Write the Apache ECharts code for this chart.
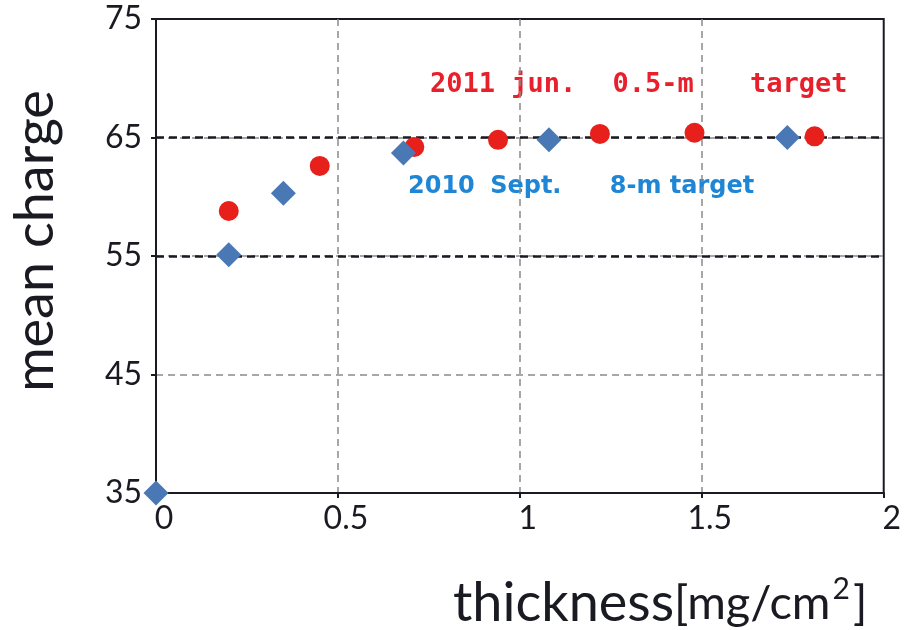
<!DOCTYPE html>
<html>
<head>
<meta charset="utf-8">
<script src="https://cdn.jsdelivr.net/npm/echarts@6/dist/echarts.min.js"></script>
<style>
  html, body { margin: 0; padding: 0; background: #fff; }
  #chart { width: 904px; height: 630px; }
</style>
</head>
<body>
<div id="chart"></div>
<script>
// 2011 jun. 0.5-m target (red circles)
const redX = [0.20, 0.45, 0.71, 0.94, 1.22, 1.48, 1.81];
const redY = [58.8, 62.6, 64.2, 64.8, 65.3, 65.4, 65.1];
// 2010 Sept. 8-m target (blue diamonds)
const blueX = [0, 0.20, 0.35, 0.68, 1.08, 1.735];
const blueY = [35, 55.1, 60.3, 63.7, 64.8, 65.0];
// tick labels
const xTicks = ['0', '0.5', '1', '1.5', '2'];
const yTicks = ['35', '45', '55', '65', '75'];
// heavy dashed lines
const refLines = [55, 65];

const ink = '#1a1a22';
const chart = echarts.init(document.getElementById('chart'));

const gridDash = { color: '#8a8a8a', width: 1.5, type: [7, 5] };

const option = {
  animation: false,
  backgroundColor: '#fff',
  grid: {
    left: 156, right: 17, top: 19, bottom: 137,
    show: true, borderColor: ink, borderWidth: 2, backgroundColor: 'transparent'
  },
  xAxis: {
    type: 'value', min: 0, max: 2, interval: 0.5,
    axisLine: { lineStyle: { color: ink, width: 2 } },
    axisTick: { show: true, length: 5, lineStyle: { color: ink, width: 2 } },
    axisLabel: {
      margin: 10, fontFamily: 'Lato', fontSize: 32, color: ink,
      padding: [0, 0, 0, 16],
      formatter: v => xTicks[Math.round(v / 0.5)]
    },
    splitLine: { show: true, showMinLine: false, showMaxLine: false, lineStyle: gridDash }
  },
  yAxis: {
    type: 'value', min: 35, max: 75, interval: 10,
    axisLine: { show: true, lineStyle: { color: ink, width: 2 } },
    axisTick: { show: true, length: 5, lineStyle: { color: ink, width: 2 } },
    axisLabel: {
      margin: 14, fontFamily: 'Lato', fontSize: 32, color: ink,
      formatter: v => yTicks[Math.round((v - 35) / 10)]
    },
    splitLine: { show: true, showMinLine: false, showMaxLine: false, lineStyle: gridDash }
  },
  series: [
    {
      name: '2011 jun. 0.5-m target',
      type: 'scatter',
      symbol: 'circle',
      symbolSize: 20,
      itemStyle: { color: '#e8201c', opacity: 1 },
      data: redX.map((x, i) => [x, redY[i]]),
      markLine: {
        z: 1, silent: true, symbol: 'none',
        label: { show: false },
        lineStyle: { color: ink, width: 2.5, type: [8, 5] },
        data: refLines.map(v => ({ yAxis: v }))
      }
    },
    {
      name: '2010 Sept. 8-m target',
      type: 'scatter',
      symbol: 'diamond',
      symbolSize: 25,
      clip: false,
      z: 3,
      itemStyle: { color: '#4a78b4', opacity: 1 },
      data: blueX.map((x, i) => [x, blueY[i]])
    }
  ],
  graphic: [
    {
      type: 'text', x: 36, y: 241, rotation: Math.PI / 2,
      style: {
        text: 'mean charge', font: '54px Lato', fill: ink,
        textAlign: 'center', textVerticalAlign: 'middle'
      }
    },
    {
      type: 'text', x: 453, y: 604,
      style: {
        text: '{a|thickness}{b|[mg/cm}{s|2}{b|]}',
        fill: ink, textAlign: 'left', textVerticalAlign: 'middle',
        rich: {
          a: { font: '54px Lato', fill: ink, lineHeight: 60 },
          b: { font: '47px Lato', fill: ink, lineHeight: 60 },
          s: { font: '30px Lato', fill: ink, verticalAlign: 'top', padding: [0, 3, 0, 2] }
        }
      }
    },
    {
      type: 'text', x: 430, y: 85,
      style: {
        text: '{a|2011} {a|jun.} {b|0.5-m} {c|target}',
        fill: '#e8202c', textAlign: 'left', textVerticalAlign: 'middle',
        font: 'bold 27px "DejaVu Sans Mono"',
        rich: {
          a: { font: 'bold 27px "DejaVu Sans Mono"', fill: '#e8202c' },
          b: { font: 'bold 27px "DejaVu Sans Mono"', fill: '#e8202c', padding: [0, 0, 0, 20] },
          c: { font: 'bold 27px "DejaVu Sans Mono"', fill: '#e8202c', padding: [0, 0, 0, 40] }
        }
      }
    },
    {
      type: 'text', x: 408, y: 187,
      style: {
        text: '{a|2010} {b|Sept.} {c|8-m} {a|target}',
        fill: '#1f86d6', textAlign: 'left', textVerticalAlign: 'middle',
        font: 'bold 24px "DejaVu Sans"',
        rich: {
          a: { font: 'bold 24px "DejaVu Sans"', fill: '#1f86d6' },
          b: { font: 'bold 24px "DejaVu Sans"', fill: '#1f86d6', padding: [0, 0, 0, 7] },
          c: { font: 'bold 24px "DejaVu Sans"', fill: '#1f86d6', padding: [0, 0, 0, 40] }
        }
      }
    }
  ]
};

chart.setOption(option);
</script>
</body>
</html>
